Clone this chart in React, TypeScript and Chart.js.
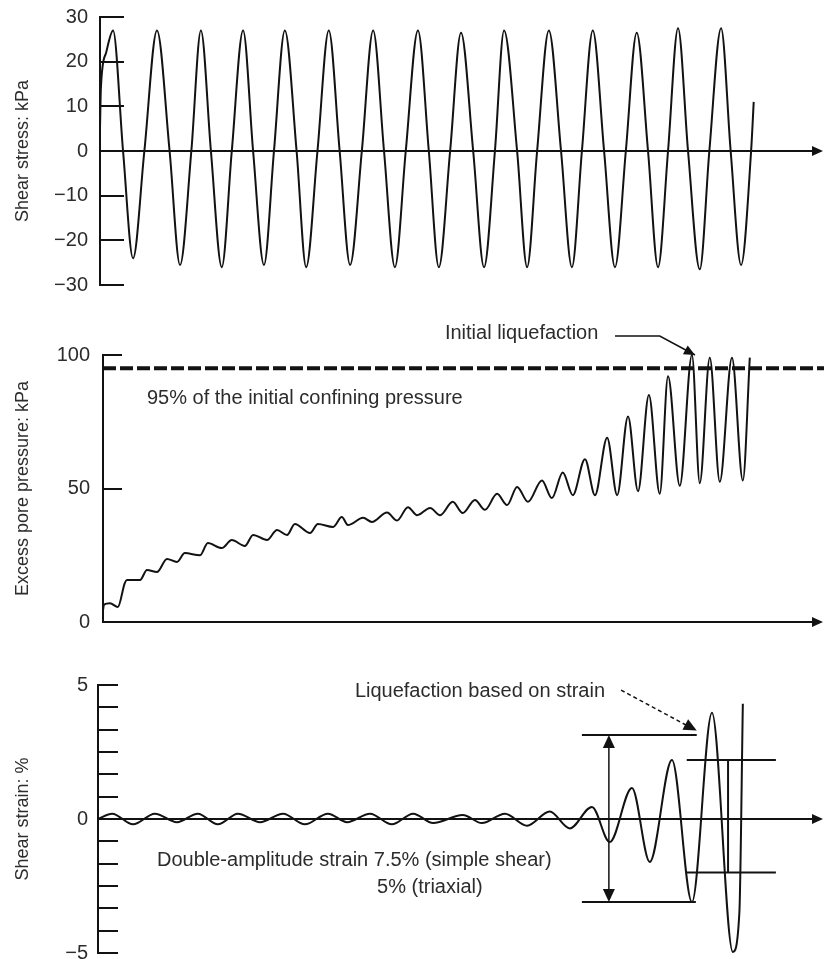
import React, { useEffect, useRef } from "react";
import { Chart, registerables } from "chart.js";
Chart.register(...registerables);

const FONT = '"Liberation Sans", Arial, sans-serif';
const INK = "#121212";
const TEXT = "#2c2c2c";
const X_MAX = 16.6; // loading cycles shown on the time axis

// ---- Panel 1: shear stress (kPa) vs cycles
const stressT = [
  0, 0.02, 0.14, 0.3, 0.53, 0.76,
  1.02, 1.31, 1.6, 1.84,
  2.1, 2.32, 2.55, 2.8,
  3.03, 3.29, 3.52, 3.77,
  4.0, 4.25, 4.52, 4.74,
  5.0, 5.26, 5.51, 5.75,
  6.02, 6.28, 6.53, 6.78,
  7.03, 7.31, 7.56, 7.79,
  8.05, 8.3, 8.58, 8.83,
  9.08, 9.29, 9.59, 9.82,
  10.05, 10.32, 10.6, 10.85,
  11.08, 11.33, 11.59, 11.84,
  12.09, 12.34, 12.6, 12.83,
  13.06, 13.29, 13.52, 13.79,
  14.01, 14.28, 14.5, 14.74,
  14.97, 15.03,
];
const stressV = [
  5, 14, 22, 27, 0, -24,
  0, 27, 0, -25.5,
  0, 27, 0, -26,
  0, 27, 0, -25.5,
  0, 27, 0, -26,
  0, 27, 0, -25.5,
  0, 27, 0, -26,
  0, 27, 0, -26,
  0, 26.5, 0, -26,
  0, 27, 0, -26,
  0, 27, 0, -26,
  0, 27, 0, -26,
  0, 26.5, 0, -26,
  0, 27.5, 0, -26.5,
  0, 27.5, 0, -25.5,
  0, 11,
];
const stressTicks = [30, 20, 10, 0, -10, -20, -30];

// ---- Panel 2: excess pore pressure (kPa)
const poreT = [
  0.07, 0.09, 0.23, 0.41, 0.57, 0.62, 0.92, 1.08, 1.31, 1.54,
  1.77, 1.95, 2.3, 2.48, 2.8, 3.03, 3.33, 3.52, 3.84, 4.07,
  4.3, 4.48, 4.83, 5.01, 5.36, 5.56, 5.7, 6.05, 6.25, 6.6,
  6.83, 7.08, 7.29, 7.59, 7.82, 8.11, 8.34, 8.62, 8.85, 9.13,
  9.36, 9.59, 9.84, 10.16, 10.39, 10.64, 10.87, 11.15, 11.38, 11.66,
  11.89, 12.14, 12.37, 12.62, 12.87, 13.06, 13.33, 13.61, 13.79, 14.02,
  14.25, 14.53, 14.78, 14.94,
];
const poreV = [
  4.5, 6.5, 7, 5.6, 14.6, 15.7, 15.7, 19.5, 18.7, 23.6,
  22.5, 25.8, 25, 29.6, 27.7, 30.7, 28.5, 32.6, 30.7, 34.5,
  32.6, 36.7, 33.3, 36.7, 35.6, 39.3, 36.3, 39, 37.5, 41,
  38, 43, 40, 42.7, 40, 45, 40.8, 45.7, 42, 48,
  43.8, 50.6, 45, 53, 46.4, 56, 47.5, 61, 47.5, 69,
  47.5, 77, 49, 85, 48, 92, 51, 100, 52, 99,
  52.5, 99, 53, 99,
];
const poreTicks = [100, 50, 0];
const poreThreshold = 95;

// ---- Panel 3: shear strain (%)
const strainT = [
  -0.05, 0.28, 0.76, 1.26, 1.77, 2.25, 2.71, 3.17, 3.68, 4.21,
  4.71, 5.24, 5.68, 6.21, 6.71, 7.2, 7.66, 8.34, 8.78, 9.31,
  9.82, 10.34, 10.8, 11.31, 11.72, 12.23, 12.64, 13.15, 13.61, 14.07,
  14.55, 14.7, 14.78,
];
const strainV = [
  0, 0.2, -0.2, 0.2, -0.12, 0.2, -0.2, 0.2, -0.12, 0.2,
  -0.2, 0.2, -0.12, 0.2, -0.2, 0.2, -0.15, 0.15, -0.15, 0.2,
  -0.25, 0.28, -0.35, 0.45, -0.86, 1.16, -1.6, 2.2, -3.1, 3.96,
  -4.96, -3.5, 4.3,
];
const strainTicks = [5, 4.17, 3.33, 2.5, 1.67, 0.83, 0, -0.83, -1.67, -2.5, -3.33, -4.17, -5];
const strainLabelled = [5, 0, -5];

const fmt = (v: number) => (v < 0 ? "\u2212" + Math.abs(v) : String(v));

function arrowHead(ctx: CanvasRenderingContext2D, x1: number, y1: number, x2: number, y2: number, len = 11, half = 5) {
  const a = Math.atan2(y2 - y1, x2 - x1);
  const c = Math.cos(a), s = Math.sin(a);
  ctx.beginPath();
  ctx.moveTo(x2, y2);
  ctx.lineTo(x2 - len * c + half * s, y2 - len * s - half * c);
  ctx.lineTo(x2 - len * c - half * s, y2 - len * s + half * c);
  ctx.closePath();
  ctx.fill();
}

function line(ctx: CanvasRenderingContext2D, pts: number[][]) {
  ctx.beginPath();
  pts.forEach(([x, y], i) => (i ? ctx.lineTo(x, y) : ctx.moveTo(x, y)));
  ctx.stroke();
}

function text(ctx: CanvasRenderingContext2D, s: string, x: number, y: number) {
  ctx.save();
  ctx.font = `20px ${FONT}`;
  ctx.fillStyle = TEXT;
  ctx.textAlign = "left";
  ctx.textBaseline = "middle";
  ctx.fillText(s, x, y);
  ctx.restore();
}

type PanelProps = {
  top: number;
  height: number;
  padTop: number;
  padBottom: number;
  axisLeft: number;
  labelPad: number;
  xMin: number;
  yMin: number;
  yMax: number;
  ticks: number[];
  label: (v: number) => string;
  tickLen: number;
  title: string;
  datasets: any[];
  extra?: (chart: any, ctx: CanvasRenderingContext2D) => void;
};

function Panel(p: PanelProps) {
  const ref = useRef<HTMLCanvasElement>(null);
  useEffect(() => {
    const deco = {
      id: "deco",
      afterDatasetsDraw(chart: any) {
        const ctx: CanvasRenderingContext2D = chart.ctx;
        const { left, right } = chart.chartArea;
        const ys = chart.scales.y;
        ctx.save();
        ctx.strokeStyle = INK;
        ctx.fillStyle = INK;
        ctx.lineWidth = 2;
        for (const v of p.ticks) {
          const y = Math.round(ys.getPixelForValue(v));
          line(ctx, [[left, y], [left + p.tickLen, y]]);
        }
        const y0 = Math.round(ys.getPixelForValue(0));
        line(ctx, [[left, y0], [right - 6, y0]]);
        arrowHead(ctx, left, y0, right + 1, y0, 11, 5);
        if (p.extra) p.extra(chart, ctx);
        ctx.restore();
      },
    };
    const chart = new Chart(ref.current!, {
      type: "line",
      data: { datasets: p.datasets },
      options: {
        responsive: false,
        maintainAspectRatio: false,
        animation: false,
        events: [],
        layout: { padding: { top: p.padTop, bottom: p.padBottom, left: 0, right: 2 } },
        plugins: { legend: { display: false }, tooltip: { enabled: false } },
        scales: {
          x: { type: "linear", min: p.xMin, max: X_MAX, display: false },
          y: {
            type: "linear",
            min: p.yMin,
            max: p.yMax,
            afterBuildTicks: (s: any) => {
              s.ticks = p.ticks.map((v) => ({ value: v }));
            },
            afterFit: (s: any) => {
              s.width = p.axisLeft;
              s.paddingTop = 0;
              s.paddingBottom = 0;
            },
            grid: { display: false, drawTicks: false },
            border: { display: true, color: INK, width: 2 },
            ticks: {
              autoSkip: false,
              padding: p.labelPad,
              color: TEXT,
              font: { family: FONT, size: 20 },
              callback: (v: any) => p.label(Number(v)),
            },
            title: {
              display: true,
              text: p.title,
              color: TEXT,
              font: { family: FONT, size: 18 },
              padding: { top: 12, bottom: 0 },
            },
          },
        },
      } as any,
      plugins: [deco],
    });
    return () => chart.destroy();
  }, []);
  return (
    <canvas
      ref={ref}
      width={824}
      height={p.height}
      style={{ position: "absolute", left: 0, top: p.top, width: 824, height: p.height }}
    />
  );
}

const curve = (t: number[], v: number[]) => ({
  data: t.map((x, i) => ({ x, y: v[i] })),
  borderColor: INK,
  borderWidth: 2,
  pointRadius: 0,
  fill: false,
  cubicInterpolationMode: "monotone",
  clip: 6,
});

export default function App() {
  const stressSets = [curve(stressT, stressV)];
  const poreSets = [
    curve(poreT, poreV),
    {
      data: [
        { x: 0.069, y: poreThreshold },
        { x: 16.66, y: poreThreshold },
      ],
      borderColor: INK,
      borderWidth: 4,
      borderDash: [13, 4],
      pointRadius: 0,
      fill: false,
      clip: false,
    },
  ];
  const strainSets = [curve(strainT, strainV)];

  const poreExtra = (chart: any, ctx: CanvasRenderingContext2D) => {
    const X = (t: number) => chart.scales.x.getPixelForValue(t);
    const Y = (v: number) => chart.scales.y.getPixelForValue(v);
    text(ctx, "Initial liquefaction", X(7.93), Y(108.2));
    text(ctx, "95% of the initial confining pressure", X(1.08), Y(83.9));
    ctx.lineWidth = 1.5;
    const pts = [
      [X(11.84), Y(107.1)],
      [X(12.87), Y(107.1)],
      [X(13.68), Y(100)],
    ];
    line(ctx, pts);
    arrowHead(ctx, pts[1][0], pts[1][1], pts[2][0], pts[2][1], 11, 5);
  };

  const strainExtra = (chart: any, ctx: CanvasRenderingContext2D) => {
    const X = (t: number) => chart.scales.x.getPixelForValue(t);
    const Y = (v: number) => chart.scales.y.getPixelForValue(v);
    ctx.lineWidth = 2;
    line(ctx, [[X(11.08), Y(3.13)], [X(13.72), Y(3.13)]]);
    line(ctx, [[X(11.08), Y(-3.1)], [X(13.7), Y(-3.1)]]);
    line(ctx, [[X(13.49), Y(2.2)], [X(15.54), Y(2.2)]]);
    line(ctx, [[X(13.49), Y(-2.0)], [X(15.54), Y(-2.0)]]);
    line(ctx, [[X(14.44), Y(2.2)], [X(14.44), Y(-2.0)]]);
    // double-amplitude arrow
    ctx.lineWidth = 1.5;
    line(ctx, [[X(11.7), Y(3.13) + 8], [X(11.7), Y(-3.1) - 8]]);
    arrowHead(ctx, X(11.7), Y(0), X(11.7), Y(3.13), 13, 6);
    arrowHead(ctx, X(11.7), Y(0), X(11.7), Y(-3.1), 13, 6);
    // liquefaction arrow
    ctx.setLineDash([4, 3]);
    const a = [X(11.98), Y(4.81)];
    const b = [X(13.72), Y(3.3)];
    line(ctx, [a, [b[0] - 6, b[1] - 3]]);
    ctx.setLineDash([]);
    arrowHead(ctx, a[0], a[1], b[0], b[1], 13, 6);
    text(ctx, "Liquefaction based on strain", X(5.86), Y(4.74));
    text(ctx, "Double-amplitude strain 7.5% (simple shear)", X(1.31), Y(-1.53));
    text(ctx, "5% (triaxial)", X(6.37), Y(-2.54));
  };

  return (
    <div style={{ position: "absolute", left: 0, top: 0, width: 824, height: 959, background: "#fff", overflow: "hidden" }}>
      <Panel
        top={0}
        height={305}
        padTop={17}
        padBottom={20}
        axisLeft={100}
        labelPad={12}
        xMin={0}
        yMin={-30}
        yMax={30}
        ticks={stressTicks}
        label={fmt}
        tickLen={24}
        title="Shear stress: kPa"
        datasets={stressSets}
      />
      <Panel
        top={305}
        height={330}
        padTop={50}
        padBottom={13}
        axisLeft={103}
        labelPad={13}
        xMin={0.069}
        yMin={0}
        yMax={100}
        ticks={poreTicks}
        label={fmt}
        tickLen={19}
        title="Excess pore pressure: kPa"
        datasets={poreSets}
        extra={poreExtra}
      />
      <Panel
        top={635}
        height={324}
        padTop={50}
        padBottom={6}
        axisLeft={98}
        labelPad={10}
        xMin={-0.046}
        yMin={-5}
        yMax={5}
        ticks={strainTicks}
        label={(v) => (strainLabelled.includes(v) ? fmt(v) : "")}
        tickLen={20}
        title="Shear strain: %"
        datasets={strainSets}
        extra={strainExtra}
      />
    </div>
  );
}
